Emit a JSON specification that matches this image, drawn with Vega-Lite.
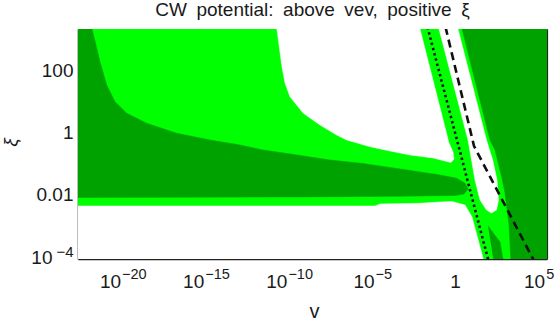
{
  "$schema": "https://vega.github.io/schema/vega-lite/v6.json",
  "width": 469,
  "height": 230,
  "autosize": {"type": "none"},
  "padding": {"left": 78, "top": 29, "right": 9, "bottom": 63},
  "background": "white",
  "title": {"text": "CW\u2002potential:\u2002above\u2002vev,\u2002positive\u2002ξ", "font": "Liberation Sans, DejaVu Sans", "fontSize": 19, "fontWeight": "normal", "color": "#1a1a1a", "anchor": "middle", "frame": "group", "baseline": "alphabetic", "offset": 12, "dy": 18.5},
  "config": {
    "view": {"stroke": null},
    "axis": {"labelFont": "Liberation Sans, DejaVu Sans", "titleFont": "Liberation Sans", "labelColor": "#1a1a1a", "titleColor": "#1a1a1a", "domainColor": "#222222", "tickColor": "#222222", "grid": false, "zindex": 1, "labelFlush": false, "labelOverlap": false, "labelBound": false}
  },
  "datasets": {
    "light": [
      {"id": "l", "i": 0, "v": 1e-24, "xi": 1e-5},
      {"id": "l", "i": 1, "v": 1e7, "xi": 1e-5},
      {"id": "l", "i": 2, "v": 1e7, "xi": 1e4},
      {"id": "l", "i": 3, "v": 1e-24, "xi": 1e4}
    ],
    "white": [
      {"id": "wb", "i": 0, "v": 1e-24, "xi": 4.40e-3},
      {"id": "wb", "i": 1, "v": 1.552e-5, "xi": 4.40e-3},
      {"id": "wb", "i": 2, "v": 3.105e-5, "xi": 5.105e-3},
      {"id": "wb", "i": 3, "v": 7.87e-3, "xi": 5.37e-3},
      {"id": "wb", "i": 4, "v": 0.1253, "xi": 5.916e-3},
      {"id": "wb", "i": 5, "v": 0.661, "xi": 6.138e-3},
      {"id": "wb", "i": 6, "v": 3.99, "xi": 4.742e-3},
      {"id": "wb", "i": 7, "v": 10.52, "xi": 1.950e-3},
      {"id": "wb", "i": 8, "v": 56.1, "xi": 6.97e-5},
      {"id": "wb", "i": 9, "v": 1e-24, "xi": 6.97e-5},
      {"id": "w1", "i": 0, "v": 1.738e-11, "xi": 2692},
      {"id": "w1", "i": 1, "v": 1.995e-11, "xi": 2004},
      {"id": "w1", "i": 2, "v": 3.99e-11, "xi": 129.4},
      {"id": "w1", "i": 3, "v": 6.04e-11, "xi": 39.63},
      {"id": "w1", "i": 4, "v": 1.208e-10, "xi": 14.36},
      {"id": "w1", "i": 5, "v": 7.29e-10, "xi": 4.30},
      {"id": "w1", "i": 6, "v": 7.67e-9, "xi": 1.770},
      {"id": "w1", "i": 7, "v": 7.74e-8, "xi": 0.843},
      {"id": "w1", "i": 8, "v": 3.09e-7, "xi": 0.582},
      {"id": "w1", "i": 9, "v": 7.78e-6, "xi": 0.355},
      {"id": "w1", "i": 10, "v": 1.239e-4, "xi": 0.258},
      {"id": "w1", "i": 11, "v": 1.972e-3, "xi": 0.192},
      {"id": "w1", "i": 12, "v": 4.76e-2, "xi": 0.154},
      {"id": "w1", "i": 13, "v": 0.2506, "xi": 0.123},
      {"id": "w1", "i": 14, "v": 0.575, "xi": 0.110},
      {"id": "w1", "i": 15, "v": 0.871, "xi": 0.1426},
      {"id": "w1", "i": 16, "v": 0.758, "xi": 0.2399},
      {"id": "w1", "i": 17, "v": 0.4355, "xi": 0.4667},
      {"id": "w1", "i": 18, "v": 7.87e-3, "xi": 2158},
      {"id": "w1", "i": 19, "v": 7.14e-3, "xi": 2692},
      {"id": "w2", "i": 0, "v": 0.0991, "xi": 2692},
      {"id": "w2", "i": 1, "v": 0.1091, "xi": 2158},
      {"id": "w2", "i": 2, "v": 6.04, "xi": 0.582},
      {"id": "w2", "i": 3, "v": 9.82, "xi": 0.1324},
      {"id": "w2", "i": 4, "v": 15.92, "xi": 0.03013},
      {"id": "w2", "i": 5, "v": 31.8, "xi": 6.85e-3},
      {"id": "w2", "i": 6, "v": 78.2, "xi": 3.27e-3},
      {"id": "w2", "i": 7, "v": 156.3, "xi": 2.618e-3},
      {"id": "w2", "i": 8, "v": 312.6, "xi": 3.27e-3},
      {"id": "w2", "i": 9, "v": 412, "xi": 6.85e-3},
      {"id": "w2", "i": 10, "v": 335, "xi": 0.03013},
      {"id": "w2", "i": 11, "v": 185, "xi": 0.1324},
      {"id": "w2", "i": 12, "v": 78.2, "xi": 0.582},
      {"id": "w2", "i": 13, "v": 1.514, "xi": 2158},
      {"id": "w2", "i": 14, "v": 1.356, "xi": 2692}
    ],
    "dark": [
      {"id": "dl", "i": 0, "v": 1e-24, "xi": 2692},
      {"id": "dl", "i": 1, "v": 1.374e-22, "xi": 2692},
      {"id": "dl", "i": 2, "v": 2.636e-22, "xi": 660.7},
      {"id": "dl", "i": 3, "v": 4.58e-22, "xi": 191.9},
      {"id": "dl", "i": 4, "v": 1.159e-21, "xi": 34.2},
      {"id": "dl", "i": 5, "v": 3.656e-21, "xi": 9.93},
      {"id": "dl", "i": 6, "v": 1.845e-20, "xi": 4.21},
      {"id": "dl", "i": 7, "v": 2.938e-19, "xi": 2.005},
      {"id": "dl", "i": 8, "v": 1.866e-17, "xi": 0.957},
      {"id": "dl", "i": 9, "v": 1.875e-15, "xi": 0.582},
      {"id": "dl", "i": 10, "v": 1.191e-13, "xi": 0.4027},
      {"id": "dl", "i": 11, "v": 2.877e-12, "xi": 0.278},
      {"id": "dl", "i": 12, "v": 3.184e-10, "xi": 0.192},
      {"id": "dl", "i": 13, "v": 3.062e-8, "xi": 0.1324},
      {"id": "dl", "i": 14, "v": 2.951e-6, "xi": 0.1023},
      {"id": "dl", "i": 15, "v": 1.303e-3, "xi": 0.0632},
      {"id": "dl", "i": 16, "v": 0.1253, "xi": 0.04365},
      {"id": "dl", "i": 17, "v": 1.265, "xi": 0.0342},
      {"id": "dl", "i": 18, "v": 3.99, "xi": 0.0236},
      {"id": "dl", "i": 19, "v": 6.04, "xi": 0.01549},
      {"id": "dl", "i": 20, "v": 3.475, "xi": 0.01069},
      {"id": "dl", "i": 21, "v": 1.0, "xi": 9.57e-3},
      {"id": "dl", "i": 22, "v": 4.943e-4, "xi": 9.02e-3},
      {"id": "dl", "i": 23, "v": 4.82e-10, "xi": 8.57e-3},
      {"id": "dl", "i": 24, "v": 1e-24, "xi": 8.26e-3},
      {"id": "dr", "i": 0, "v": 2.393, "xi": 2692},
      {"id": "dr", "i": 1, "v": 127.0, "xi": 0.582},
      {"id": "dr", "i": 2, "v": 253.6, "xi": 0.278},
      {"id": "dr", "i": 3, "v": 641, "xi": 0.03767},
      {"id": "dr", "i": 4, "v": 1014, "xi": 0.01151},
      {"id": "dr", "i": 5, "v": 1762, "xi": 1.079e-3},
      {"id": "dr", "i": 6, "v": 2323, "xi": 6.97e-5},
      {"id": "dr", "i": 7, "v": 1e7, "xi": 6.97e-5},
      {"id": "dr", "i": 8, "v": 1e7, "xi": 2692},
      {"id": "dw", "i": 0, "v": 96.4, "xi": 1.0e-3},
      {"id": "dw", "i": 1, "v": 507, "xi": 3.062e-4},
      {"id": "dw", "i": 2, "v": 822, "xi": 6.97e-5},
      {"id": "dw", "i": 3, "v": 214.8, "xi": 6.97e-5}
    ],
    "dotted": [
      {"id": "dot", "i": 0, "v": 0.02223, "xi": 2500},
      {"id": "dot", "i": 1, "v": 100.7, "xi": 7.94e-5}
    ],
    "dashed": [
      {"id": "dash", "i": 0, "v": 0.2685, "xi": 2500},
      {"id": "dash", "i": 1, "v": 13.87, "xi": 0.3733},
      {"id": "dash", "i": 2, "v": 5.689e4, "xi": 7.50e-5}
    ]
  },
  "resolve": {"axis": {"x": "independent", "y": "independent"}},
  "layer": [
    {
      "data": {"name": "light"},
      "mark": {"type": "line", "clip": true, "fill": "#00ff00", "stroke": "#00ff00", "strokeWidth": 0.5},
      "encoding": {
        "x": {"field": "v", "type": "quantitative", "scale": {"type": "log", "domain": [2.183e-23, 3.388e5], "nice": false},
          "axis": {"orient": "bottom", "values": [1e-20, 1e-15, 1e-10, 1e-5, 1, 1e5], "labels": false,
            "tickSize": -5, "tickWidth": 1, "domainWidth": 1.6,
            "title": "v", "titleFontSize": 20, "titleFontWeight": "normal", "titleX": 236, "titleY": 58, "titleBaseline": "alphabetic", "titleAlign": "center"}},
        "y": {"field": "xi", "type": "quantitative", "scale": {"type": "log", "domain": [8.69e-5, 2158], "nice": false},
          "axis": {"orient": "left", "values": [1e-4, 0.01, 1, 100], "labels": false,
            "tickSize": -5, "tickWidth": 1, "domainWidth": 1.6,
            "title": "ξ", "titleFontSize": 19, "titleFontStyle": "italic", "titleFontWeight": "normal", "titleAngle": -90, "titleX": -68, "titleY": 113, "titleAlign": "center", "titleBaseline": "middle"}},
        "order": {"field": "i", "type": "quantitative"}
      }
    },
    {
      "data": {"name": "white"},
      "mark": {"type": "line", "clip": true, "fill": "#ffffff", "stroke": "#ffffff", "strokeWidth": 0.5},
      "encoding": {
        "x": {"field": "v", "type": "quantitative", "scale": {"type": "log", "domain": [2.183e-23, 3.388e5], "nice": false},
          "axis": {"orient": "bottom", "values": [1e-22, 1e-21, 1e-19, 1e-18, 1e-17, 1e-16, 1e-14, 1e-13, 1e-12, 1e-11, 1e-9, 1e-8, 1e-7, 1e-6, 1e-4, 1e-3, 1e-2, 1e-1, 10, 100, 1000, 1e4],
            "labels": false, "domain": false, "tickSize": -3, "tickWidth": 1, "title": null}},
        "y": {"field": "xi", "type": "quantitative", "scale": {"type": "log", "domain": [8.69e-5, 2158], "nice": false},
          "axis": {"orient": "left", "values": [1e-3, 0.1, 10, 1000], "labels": false, "domain": false, "tickSize": -3, "tickWidth": 1, "title": null}},
        "detail": {"field": "id", "type": "nominal"},
        "order": {"field": "i", "type": "quantitative"}
      }
    },
    {
      "data": {"name": "dark"},
      "mark": {"type": "line", "clip": true, "fill": "#00a200", "stroke": "#00a200", "strokeWidth": 0.5},
      "encoding": {
        "x": {"field": "v", "type": "quantitative", "scale": {"type": "log", "domain": [2.183e-23, 3.388e5], "nice": false},
          "axis": {"orient": "top", "values": [1e-20, 1e-15, 1e-10, 1e-5, 1, 1e5], "labels": false, "tickSize": -5, "tickWidth": 1, "domainWidth": 1.2, "title": null}},
        "y": {"field": "xi", "type": "quantitative", "scale": {"type": "log", "domain": [8.69e-5, 2158], "nice": false},
          "axis": {"orient": "right", "values": [1e-4, 0.01, 1, 100], "labels": false, "tickSize": -5, "tickWidth": 1, "domainWidth": 1.2, "title": null}},
        "detail": {"field": "id", "type": "nominal"},
        "order": {"field": "i", "type": "quantitative"}
      }
    },
    {
      "data": {"name": "dotted"},
      "mark": {"type": "line", "clip": true, "color": "#111111", "strokeWidth": 2.6, "strokeDash": [2.4, 3]},
      "encoding": {
        "x": {"field": "v", "type": "quantitative", "scale": {"type": "log", "domain": [2.183e-23, 3.388e5], "nice": false},
          "axis": {"orient": "top", "values": [1e-22, 1e-21, 1e-19, 1e-18, 1e-17, 1e-16, 1e-14, 1e-13, 1e-12, 1e-11, 1e-9, 1e-8, 1e-7, 1e-6, 1e-4, 1e-3, 1e-2, 1e-1, 10, 100, 1000, 1e4],
            "labels": false, "domain": false, "tickSize": -3, "tickWidth": 1, "title": null}},
        "y": {"field": "xi", "type": "quantitative", "scale": {"type": "log", "domain": [8.69e-5, 2158], "nice": false},
          "axis": {"orient": "right", "values": [1e-3, 0.1, 10, 1000], "labels": false, "domain": false, "tickSize": -3, "tickWidth": 1, "title": null}},
        "order": {"field": "i", "type": "quantitative"}
      }
    },
    {
      "data": {"name": "dashed"},
      "mark": {"type": "line", "clip": true, "color": "#111111", "strokeWidth": 2.6, "strokeDash": [8, 5]},
      "encoding": {
        "x": {"field": "v", "type": "quantitative", "scale": {"type": "log", "domain": [2.183e-23, 3.388e5], "nice": false},
          "axis": {"orient": "bottom", "values": [1e-20, 1e-15, 1e-10, 1e-5, 1, 1e5], "ticks": false, "domain": false, "title": null,
            "labelExpr": "round(log(datum.value)/LN10) == 0 ? '1' : '10'",
            "labelFontSize": 19, "labelPadding": 28, "labelBaseline": "alphabetic",
            "labelAlign": {"condition": {"test": "round(log(datum.value)/LN10) == 0", "value": "center"}, "value": "right"},
            "labelOffset": {"condition": [{"test": "round(log(datum.value)/LN10) == 0", "value": 0}, {"test": "round(log(datum.value)/LN10) == 5", "value": 6.5}, {"test": "round(log(datum.value)/LN10) == -5", "value": 2.3}], "value": -1.75}}},
        "y": {"field": "xi", "type": "quantitative", "scale": {"type": "log", "domain": [8.69e-5, 2158], "nice": false},
          "axis": {"orient": "left", "values": [1e-4, 0.01, 1, 100], "ticks": false, "domain": false, "title": null,
            "labelExpr": "round(log(datum.value)/LN10) == -4 ? '10' : round(log(datum.value)/LN10) == -2 ? '0.01' : round(log(datum.value)/LN10) == 0 ? '1' : '100'",
            "labelFontSize": 19, "labelBaseline": "middle", "labelAlign": "right",
            "labelPadding": {"condition": {"test": "round(log(datum.value)/LN10) == -4", "value": 26}, "value": 5}}},
        "order": {"field": "i", "type": "quantitative"}
      }
    },
    {
      "data": {"name": "dashed"},
      "mark": {"type": "line", "clip": true, "opacity": 0, "strokeWidth": 0},
      "encoding": {
        "x": {"field": "v", "type": "quantitative", "scale": {"type": "log", "domain": [2.183e-23, 3.388e5], "nice": false},
          "axis": {"orient": "bottom", "values": [1e-20, 1e-15, 1e-10, 1e-5, 1e5], "ticks": false, "domain": false, "title": null,
            "labelExpr": "round(log(datum.value)/LN10) == 5 ? '5' : round(log(datum.value)/LN10) == -5 ? '−5' : round(log(datum.value)/LN10) == -10 ? '−10' : round(log(datum.value)/LN10) == -15 ? '−15' : '−20'",
            "labelFontSize": 14.5, "labelPadding": 19.5, "labelBaseline": "alphabetic", "labelAlign": "left",
            "labelOffset": {"condition": [{"test": "round(log(datum.value)/LN10) == 5", "value": 7.5}, {"test": "round(log(datum.value)/LN10) == -5", "value": 3.3}], "value": -0.75}}},
        "y": {"field": "xi", "type": "quantitative", "scale": {"type": "log", "domain": [8.69e-5, 2158], "nice": false},
          "axis": {"orient": "left", "values": [1e-4], "ticks": false, "domain": false, "title": null,
            "labelExpr": "'−4'", "labelFontSize": 15, "labelBaseline": "middle", "labelAlign": "right", "labelPadding": 5, "labelOffset": -6}},
        "order": {"field": "i", "type": "quantitative"}
      }
    }
  ]
}
